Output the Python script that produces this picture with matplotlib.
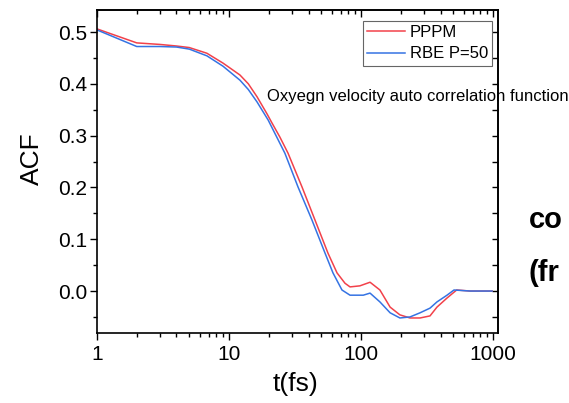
import matplotlib
matplotlib.use("Agg")

import matplotlib.pyplot as plt
from matplotlib.ticker import AutoMinorLocator, NullFormatter, FixedLocator

plt.rcParams["font.family"] = ["Liberation Sans", "DejaVu Sans"]

# ── data ──────────────────────────────────────────────────────────────────────
t_red = [1, 2, 3, 4, 5, 6.8, 9, 12.1, 14, 16.3, 19.4, 21.2, 24.3, 28, 35.7, 44.8,
         56.2, 65.8, 75.6, 82.5, 98, 117, 139, 166, 197, 235, 280, 333, 376,
         448, 530, 670, 983]
acf_red = [0.506, 0.479, 0.476, 0.473, 0.470, 0.459, 0.440, 0.417, 0.400, 0.375,
           0.342, 0.324, 0.297, 0.266, 0.201, 0.137, 0.073, 0.035, 0.015, 0.008,
           0.010, 0.017, 0.002, -0.031, -0.046, -0.052, -0.052, -0.048, -0.031,
           -0.0135, 0.002, 0.0, 0.0]

t_blue = [1, 2, 3, 4, 5, 6.8, 9, 12.1, 14, 16.3, 19.8, 26.5, 33.3, 42.5, 53.4,
          61.3, 71.7, 82.5, 104, 117, 139, 166, 197, 235, 280, 333, 376, 448,
          506, 670, 983]
acf_blue = [0.504, 0.472, 0.472, 0.471, 0.467, 0.454, 0.434, 0.407, 0.389, 0.365,
            0.330, 0.266, 0.201, 0.137, 0.073, 0.035, 0.002, -0.008, -0.008,
            -0.004, -0.021, -0.042, -0.052, -0.050, -0.042, -0.033, -0.021,
            -0.008, 0.002, 0.0, 0.0]

x_ticks = [1, 10, 100, 1000]
x_ticklabels = ["1", "10", "100", "1000"]
y_ticks = [0.0, 0.1, 0.2, 0.3, 0.4, 0.5]

RED = "#F2414A"
BLUE = "#3573E3"

# ── figure ────────────────────────────────────────────────────────────────────
fig = plt.figure(figsize=(5.69, 4.03), dpi=100, facecolor="white")
ax = fig.add_axes([0.1705, 0.1737, 0.7047, 0.8015])

ax.plot(t_red, acf_red, color=RED, lw=1.1, label="PPPM")
ax.plot(t_blue, acf_blue, color=BLUE, lw=1.1, label="RBE P=50")

ax.set_xscale("log")
ax.set_xlim(1, 1090)
ax.set_ylim(-0.081, 0.5425)

ax.xaxis.set_major_locator(FixedLocator(x_ticks))
ax.set_xticklabels(x_ticklabels)
ax.xaxis.set_minor_formatter(NullFormatter())
ax.set_yticks(y_ticks)
ax.set_yticklabels([f"{v:.1f}" for v in y_ticks])
ax.yaxis.set_minor_locator(AutoMinorLocator(2))

ax.tick_params(which="both", direction="out", top=False, right=False,
               width=1.0, labelsize=15)
ax.tick_params(axis="y", which="major", length=5, pad=2)
ax.tick_params(axis="x", which="major", length=5, pad=3.5)
ax.tick_params(which="minor", length=3)
for s in ax.spines.values():
    s.set_linewidth(1.2)

# mirrored inward ticks on top and right
top = ax.secondary_xaxis("top")
top.xaxis.set_major_locator(FixedLocator(x_ticks))
top.xaxis.set_major_formatter(NullFormatter())
top.xaxis.set_minor_formatter(NullFormatter())
top.tick_params(which="both", direction="in", width=1.0)
top.tick_params(which="major", length=5)
top.tick_params(which="minor", length=3)
top.spines["top"].set_linewidth(1.2)

right = ax.secondary_yaxis("right")
right.set_yticks(y_ticks)
right.yaxis.set_major_formatter(NullFormatter())
right.yaxis.set_minor_locator(AutoMinorLocator(2))
right.tick_params(which="both", direction="in", width=1.0, length=4)
right.spines["right"].set_linewidth(1.2)

ax.set_ylabel("ACF", fontsize=19, va="center")
ax.yaxis.set_label_coords(-0.162, 0.54)
ax.set_xlabel("t(fs)", fontsize=19, va="center")
ax.xaxis.set_label_coords(0.495, -0.158)

leg = ax.legend(loc="upper right", bbox_to_anchor=(0.985, 0.966),
                borderaxespad=0, fontsize=12, fancybox=False,
                edgecolor="#666666", framealpha=1, handlelength=2.3,
                handletextpad=0.25, labelspacing=0.38, borderpad=0.25)
leg.get_frame().set_linewidth(0.8)

ax.text(19.4, 0.367, "Oxyegn velocity auto correlation function",
        fontsize=12, va="baseline", ha="left")

# slide text cut off at the right edge
fig.text(529 / 569, 1 - 228 / 403, "co", fontsize=21, fontweight="bold",
         va="baseline", ha="left")
fig.text(528 / 569, 1 - 281 / 403, "(fr", fontsize=21, fontweight="bold",
         va="baseline", ha="left")

fig.savefig("out.png", dpi=100, facecolor="white")
